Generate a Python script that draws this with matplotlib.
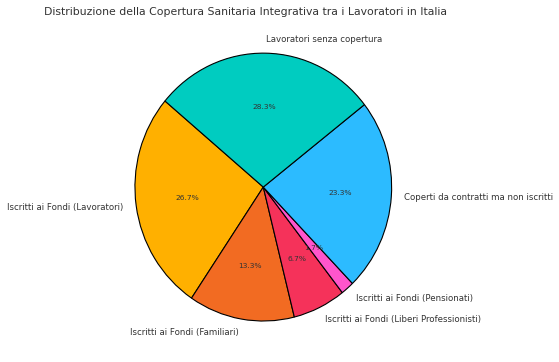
import numpy as np
import matplotlib.pyplot as plt

# data (percent shares)
categories = ["Iscritti ai Fondi (Lavoratori)",
              "Iscritti ai Fondi (Familiari)",
              "Iscritti ai Fondi (Liberi Professionisti)",
              "Iscritti ai Fondi (Pensionati)",
              "Coperti da contratti ma non iscritti",
              "Lavoratori senza copertura"]
values = [16, 8, 4, 1, 14, 17]
colors = ["#FFB000", "#F26B22", "#F5325A", "#FF55CC", "#2CBBFF", "#00CCC0"]

title = "Distribuzione della Copertura Sanitaria Integrativa tra i Lavoratori in Italia"

fig = plt.figure(figsize=(5.59, 3.62), dpi=100)
ax = fig.add_axes([0.184, 0.0207, 0.574, 0.925])

wedges, texts, autotexts = ax.pie(values, labels=categories, colors=colors,
                                  autopct="%1.1f%%", startangle=140,
                                  wedgeprops={"edgecolor": "black", "linewidth": 0.8},
                                  textprops={"fontsize": 6.2, "color": "#333333"})
for t in autotexts:
    t.set_fontsize(5.4)
    t.set_color("#333333")
ax.set_aspect("auto")
ax.set_xlim(-1.25, 1.25)
ax.set_ylim(-1.25, 1.25)

fig.text(246 / 559, 1 - 12 / 362, title, ha="center", va="center",
         fontsize=7.8, color="#333333")

fig.savefig("out.png", dpi=100)
